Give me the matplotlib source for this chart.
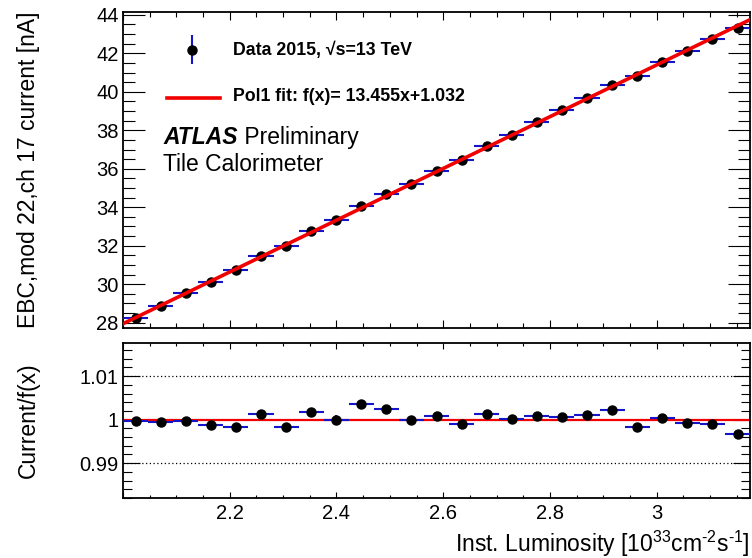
#!/usr/bin/env python3
"""ATLAS Tile: EBC mod 22 ch 17 current vs inst. luminosity, with pol1 fit and ratio."""
import matplotlib
matplotlib.use("Agg")
import matplotlib.pyplot as plt
from matplotlib.ticker import MultipleLocator, FuncFormatter

plt.rcParams["font.family"] = ["Liberation Sans", "DejaVu Sans"]
plt.rcParams["mathtext.fontset"] = "custom"
plt.rcParams["mathtext.rm"] = "Liberation Sans"
plt.rcParams["mathtext.it"] = "Liberation Sans:italic"
plt.rcParams["mathtext.bf"] = "Liberation Sans:bold"

# bin centres of inst. luminosity [1e33 cm-2 s-1]
lumi = [2.0235, 2.0705, 2.1175, 2.1645, 2.2115, 2.2585, 2.3055, 2.3525, 2.3995,
        2.4465, 2.4935, 2.5405, 2.5875, 2.6345, 2.6815, 2.7285, 2.7755, 2.8225,
        2.8695, 2.9165, 2.9635, 3.0105, 3.0575, 3.1045, 3.1515]
bin_width = 0.047

# PMT current [nA]
current = [28.252, 28.877, 29.514, 30.120, 30.738, 31.459, 31.995, 32.740, 33.315,
           34.073, 34.663, 35.214, 35.877, 36.442, 37.164, 37.750, 38.409, 39.030,
           39.687, 40.361, 40.839, 41.551, 42.135, 42.756, 43.294]
current_err = [0.01, 0.01, 0.01, 0.01, 0.01, 0.01, 0.01, 0.01, 0.04,
               0.01, 0.01, 0.01, 0.01, 0.01, 0.01, 0.01, 0.01, 0.01,
               0.01, 0.01, 0.01, 0.01, 0.01, 0.01, 0.01]

# current / fit
ratio = [0.99977, 0.99953, 0.99970, 0.99884, 0.99837, 1.00124, 0.99822, 1.00170, 0.99992,
         1.00364, 1.00233, 1.00000, 1.00085, 0.99899, 1.00140, 1.00016, 1.00085, 1.00054,
         1.00116, 1.00217, 0.99837, 1.00031, 0.99915, 0.99891, 0.99674]
ratio_err = [0.0003, 0.0003, 0.0003, 0.0003, 0.0003, 0.0003, 0.0003, 0.0003, 0.0012,
             0.0003, 0.0003, 0.0003, 0.0003, 0.0003, 0.0003, 0.0003, 0.0003, 0.0003,
             0.0003, 0.0003, 0.0003, 0.0003, 0.0003, 0.0003, 0.0003]

fit_slope = 13.455
fit_offset = 1.032

x_range = (2.0, 3.175)

BLUE = "#1414c8"
RED = "#f20000"


def _fmt(v, _pos):
    return f"{v:g}"


def _fmt_x(v, _pos):
    # ROOT leaves the label at the left edge off
    return "" if abs(v - x_range[0]) < 1e-6 else f"{v:g}"


fig = plt.figure(figsize=(7.52, 5.58), dpi=100)
ax = fig.add_axes([0.1636, 0.4122, 0.8338, 0.5663])
ax2 = fig.add_axes([0.1636, 0.1075, 0.8338, 0.2778], sharex=ax)

# --- top panel
half = [bin_width / 2] * len(lumi)
ax.errorbar(lumi, current, xerr=half, yerr=current_err, fmt="o", color="black",
            ecolor=BLUE, elinewidth=1.5, capsize=0, ms=6.5, zorder=3)
fx = list(x_range)
ax.plot(fx, [fit_slope * v + fit_offset for v in fx], color=RED, lw=2.6, zorder=4)

ax.set_xlim(*x_range)
ax.set_ylim(27.72, 44.15)
ax.yaxis.set_major_locator(MultipleLocator(2))
ax.yaxis.set_minor_locator(MultipleLocator(0.5))
ax.xaxis.set_major_locator(MultipleLocator(0.2))
ax.xaxis.set_minor_locator(MultipleLocator(0.05))
ax.tick_params(which="both", direction="in", top=True, right=True, width=0.8, labelsize=14.5)
ax.tick_params(axis="y", which="major", length=15.5, pad=3)
ax.tick_params(axis="y", which="minor", length=8.5)
ax.tick_params(axis="x", which="major", length=6)
ax.tick_params(axis="x", which="minor", length=3.5)
ax.tick_params(axis="x", labelbottom=False)
ax.set_ylabel("EBC,mod 22,ch 17 current [nA]", fontsize=16.5)
ax.yaxis.set_label_coords(-0.132, 0.5)

# legend / labels drawn by hand, ROOT style
ax.errorbar([0.110], [0.880], yerr=[0.046], fmt="o", color="black", ecolor=BLUE,
            elinewidth=1.5, capsize=0, ms=6.5, transform=ax.transAxes)
ax.text(0.1754, 0.880, "Data 2015, √s=13 TeV", transform=ax.transAxes,
        fontsize=12.8, fontweight="bold", va="center")
ax.plot([0.070, 0.155], [0.728, 0.728], color=RED, lw=2.6, transform=ax.transAxes)
ax.text(0.1754, 0.731, "Pol1 fit: f(x)= 13.455x+1.032", transform=ax.transAxes,
        fontsize=12.8, fontweight="bold", va="center")
t = ax.text(0.0638, 0.604, "ATLAS", transform=ax.transAxes, fontsize=16.5,
            fontweight="bold", fontstyle="italic", va="center")
ax.annotate(" Preliminary", xycoords=t, xy=(1, 0.5), va="center", fontsize=16.5)
ax.text(0.0638, 0.516, "Tile Calorimeter", transform=ax.transAxes, fontsize=16.5, va="center")

# --- ratio panel
ax2.axhline(1.0, color=RED, lw=1.6, zorder=2)
for lvl in (0.99, 1.01):
    ax2.axhline(lvl, color="black", lw=0.9, ls=(0, (1, 2)), zorder=1)
ax2.errorbar(lumi, ratio, xerr=half, yerr=ratio_err, fmt="o", color="black",
             ecolor=BLUE, elinewidth=1.5, capsize=0, ms=6.5, zorder=3)
ax2.set_ylim(0.982, 1.0176)
ax2.yaxis.set_major_locator(MultipleLocator(0.01))
ax2.yaxis.set_minor_locator(MultipleLocator(0.002))
ax2.yaxis.set_major_formatter(FuncFormatter(_fmt))
ax2.xaxis.set_major_formatter(FuncFormatter(_fmt_x))
ax2.tick_params(which="both", direction="in", top=True, right=True, width=0.8, labelsize=14.5)
ax2.tick_params(axis="y", which="major", length=12, pad=3)
ax2.tick_params(axis="y", which="minor", length=6.5)
ax2.tick_params(axis="x", which="major", length=4.5, pad=4)
ax2.tick_params(axis="x", which="minor", length=2.3)
ax2.set_ylabel("Current/f(x)", fontsize=16.5)
ax2.yaxis.set_label_coords(-0.132, 0.5)
ax2.set_xlabel(r"Inst. Luminosity [10$^{33}$cm$^{\text{-2}}$s$^{\text{-1}}$]", fontsize=16.5, loc="right")
ax2.xaxis.set_label_coords(1.0, -0.2)

for a in (ax, ax2):
    for sp in a.spines.values():
        sp.set_linewidth(1.3)

fig.savefig("out.png", dpi=100)
plt.close(fig)
